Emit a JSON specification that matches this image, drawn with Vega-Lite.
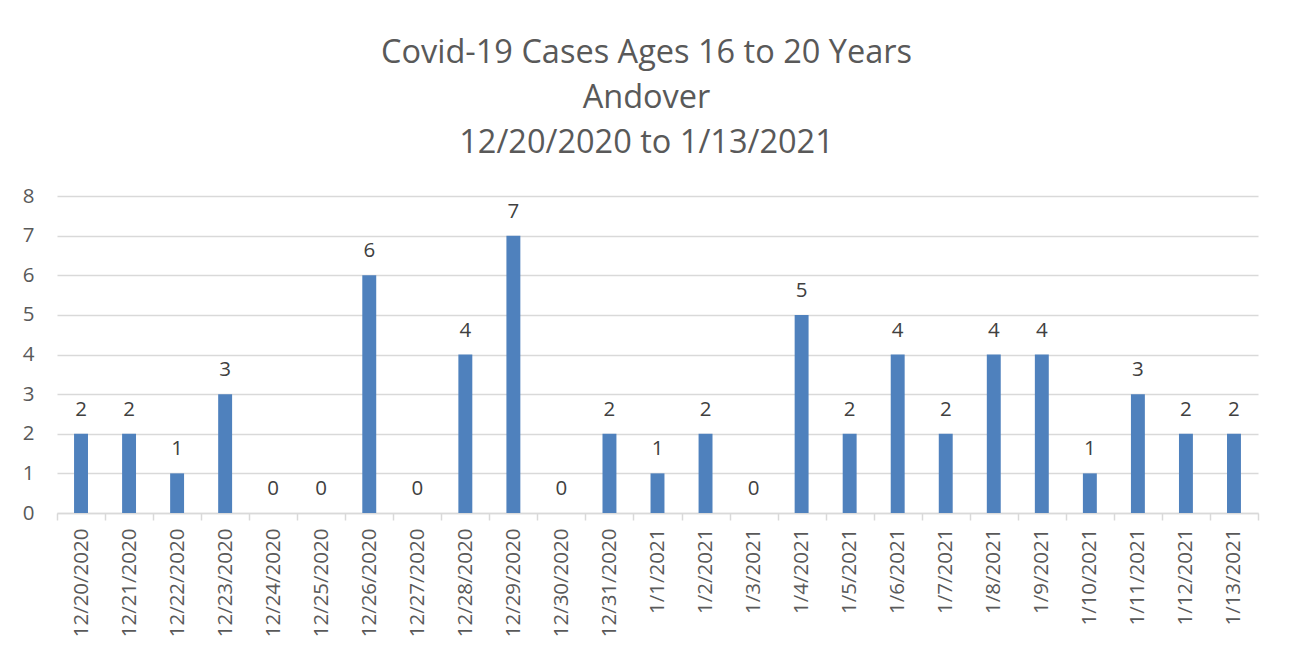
{
  "$schema": "https://vega.github.io/schema/vega-lite/v6.json",
  "width": 1201,
  "height": 317,
  "autosize": {"type": "none"},
  "padding": {"left": 57, "top": 196, "right": 32, "bottom": 147},
  "background": "white",
  "title": {
    "text": ["Covid-19 Cases Ages 16 to 20 Years", "Andover", "12/20/2020 to 1/13/2021"],
    "fontSize": 32.5,
    "font": "Open Sans",
    "fontWeight": "normal",
    "color": "#595959",
    "lineHeight": 45,
    "anchor": "middle",
    "dx": -11,
    "offset": 27
  },
  "data": {
    "values": [
      {"date": "12/20/2020", "cases": 2},
      {"date": "12/21/2020", "cases": 2},
      {"date": "12/22/2020", "cases": 1},
      {"date": "12/23/2020", "cases": 3},
      {"date": "12/24/2020", "cases": 0},
      {"date": "12/25/2020", "cases": 0},
      {"date": "12/26/2020", "cases": 6},
      {"date": "12/27/2020", "cases": 0},
      {"date": "12/28/2020", "cases": 4},
      {"date": "12/29/2020", "cases": 7},
      {"date": "12/30/2020", "cases": 0},
      {"date": "12/31/2020", "cases": 2},
      {"date": "1/1/2021", "cases": 1},
      {"date": "1/2/2021", "cases": 2},
      {"date": "1/3/2021", "cases": 0},
      {"date": "1/4/2021", "cases": 5},
      {"date": "1/5/2021", "cases": 2},
      {"date": "1/6/2021", "cases": 4},
      {"date": "1/7/2021", "cases": 2},
      {"date": "1/8/2021", "cases": 4},
      {"date": "1/9/2021", "cases": 4},
      {"date": "1/10/2021", "cases": 1},
      {"date": "1/11/2021", "cases": 3},
      {"date": "1/12/2021", "cases": 2},
      {"date": "1/13/2021", "cases": 2}
    ]
  },
  "encoding": {
    "x": {
      "field": "date",
      "type": "nominal",
      "sort": null,
      "scale": {"paddingInner": 0, "paddingOuter": 0},
      "axis": {
        "title": null,
        "labelAngle": -90,
        "labelFont": "Open Sans",
        "labelFontSize": 20.5,
        "labelColor": "#595959",
        "labelPadding": 8,
        "domainColor": "#d9d9d9",
        "domainWidth": 1.5,
        "tickColor": "#d9d9d9",
        "tickWidth": 1.5,
        "tickSize": 7,
        "tickBand": "extent",
        "grid": false
      }
    },
    "y": {
      "field": "cases",
      "type": "quantitative",
      "scale": {"domain": [0, 8]},
      "axis": {
        "title": null,
        "values": [0, 1, 2, 3, 4, 5, 6, 7, 8],
        "labelOverlap": false,
        "labelFont": "Open Sans",
        "labelFontSize": 20.5,
        "labelColor": "#595959",
        "labelPadding": 23,
        "domain": false,
        "ticks": false,
        "grid": true,
        "gridColor": "#d9d9d9",
        "gridWidth": 1.5
      }
    }
  },
  "layer": [
    {"mark": {"type": "bar", "color": "#4F81BD", "width": {"band": 0.29}}},
    {
      "mark": {"type": "text", "baseline": "alphabetic", "dy": -18, "font": "Open Sans", "fontSize": 20.5, "color": "#404040"},
      "encoding": {"text": {"field": "cases", "type": "quantitative"}}
    }
  ],
  "config": {"view": {"stroke": null}}
}
